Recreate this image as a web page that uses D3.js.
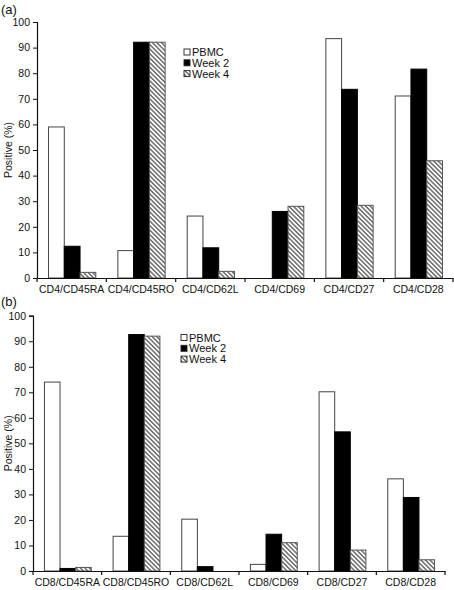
<!DOCTYPE html>
<html><head><meta charset="utf-8">
<script src="https://cdn.jsdelivr.net/npm/d3@7"></script>
<style>body{margin:0;background:#fff}svg{display:block}text{font-family:"Liberation Sans",Arial,sans-serif;fill:#111}</style>
</head><body>
<script>
const seriesNames = ["PBMC", "Week 2", "Week 4"];
const categoriesA = ["CD4/CD45RA","CD4/CD45RO","CD4/CD62L","CD4/CD69","CD4/CD27","CD4/CD28"];
const pbmcA  = [59.0, 10.7, 24.2, 0, 93.5, 71.1];
const week2A = [12.4, 92.1, 11.8, 26.0, 73.7, 81.6];
const week4A = [2.2, 92.1, 2.6, 28.0, 28.4, 45.8];
const categoriesB = ["CD8/CD45RA","CD8/CD45RO","CD8/CD62L","CD8/CD69","CD8/CD27","CD8/CD28"];
const pbmcB  = [74.0, 13.6, 20.3, 2.6, 70.2, 36.1];
const week2B = [1.0, 92.6, 1.7, 14.4, 54.5, 28.8];
const week4B = [1.4, 92.0, 0, 11.1, 8.2, 4.4];
const yTicks = [0,10,20,30,40,50,60,70,80,90,100];

const W = 454, H = 590;
const svg = d3.select("body").append("svg").attr("width", W).attr("height", H);
const defs = svg.append("defs");
const pat = defs.append("pattern").attr("id","hatch").attr("patternUnits","userSpaceOnUse")
  .attr("width",3.2).attr("height",3.2).attr("patternTransform","rotate(-45)");
pat.append("rect").attr("width",3.2).attr("height",3.2).attr("fill","#fff");
pat.append("line").attr("x1",0.8).attr("y1",0).attr("x2",0.8).attr("y2",3.2).attr("stroke","#222").attr("stroke-width",1);

const fills = ["#fff", "#000", "url(#hatch)"];
const strokes = ["#444", "#000", "#555"];

function panel(cfg) {
  const {label, labelY, left, right, y0, y100, cats, series, legendX, legendY} = cfg;
  const g = svg.append("g");
  const x = d3.scaleBand().domain(cats).range([left, right]).paddingInner(0).paddingOuter(0);
  const bw = x.bandwidth();
  const xs = d3.scaleBand().domain(seriesNames).range([0, bw]).paddingInner(0).paddingOuter(0.7);
  const y = d3.scaleLinear().domain([0,100]).range([y0, y100]);

  // bars
  seriesNames.forEach((s, si) => {
    g.append("g").selectAll("rect").data(series[si]).join("rect")
      .attr("x", (d,i) => x(cats[i]) + xs(s) + 0.5)
      .attr("width", xs.bandwidth())
      .attr("y", d => y(d))
      .attr("height", d => y(0) - y(d))
      .attr("fill", fills[si])
      .attr("stroke", d => d > 0 ? strokes[si] : "none")
      .attr("stroke-width", 1);
  });

  // y axis
  const ya = g.append("g").attr("transform", `translate(${left},0)`)
    .call(d3.axisLeft(y).tickValues(yTicks).tickSize(4).tickPadding(3));
  ya.select(".domain").attr("stroke","#111").attr("stroke-width",1.2);
  ya.selectAll(".tick line").attr("stroke","#111");
  ya.selectAll("text").style("font-size","10.5px").attr("fill","#111");

  // x axis
  const xa = g.append("g").attr("transform", `translate(0,${y0})`)
    .call(d3.axisBottom(x).tickSize(0).tickPadding(8));
  xa.select(".domain").attr("stroke","#111").attr("stroke-width",1.2);
  xa.selectAll("text").style("font-size","10.5px").attr("fill","#111");
  const bounds = cats.map(c => x(c)).concat([right]);
  g.append("g").selectAll("line").data(bounds).join("line")
    .attr("x1", d => d).attr("x2", d => d).attr("y1", y0).attr("y2", y0 + 4)
    .attr("stroke","#111").attr("stroke-width",1.2);

  // y label
  g.append("text").attr("transform", `translate(12,${(y0+y100)/2}) rotate(-90)`)
    .attr("text-anchor","middle").style("font-size","10.5px").text("Positive (%)");
  // panel label
  g.append("text").attr("x", 1).attr("y", labelY).style("font-size","13px").text(label);

  // legend
  const lg = g.append("g");
  seriesNames.forEach((s, si) => {
    const ly = legendY + si * 10.8;
    lg.append("rect").attr("x", legendX).attr("y", ly - 3).attr("width", 6).attr("height", 6)
      .attr("fill", fills[si]).attr("stroke", "#222").attr("stroke-width", 0.9);
    lg.append("text").attr("x", legendX + 8).attr("y", ly + 4).style("font-size","11px").text(s);
  });
}

panel({label:"(a)", labelY:14, left:37, right:453, y0:278, y100:22,
  cats:categoriesA, series:[pbmcA, week2A, week4A], legendX:184, legendY:52});
panel({label:"(b)", labelY:306, left:33, right:445, y0:571, y100:315.7,
  cats:categoriesB, series:[pbmcB, week2B, week4B], legendX:181, legendY:337.5});
</script>
</body></html>
